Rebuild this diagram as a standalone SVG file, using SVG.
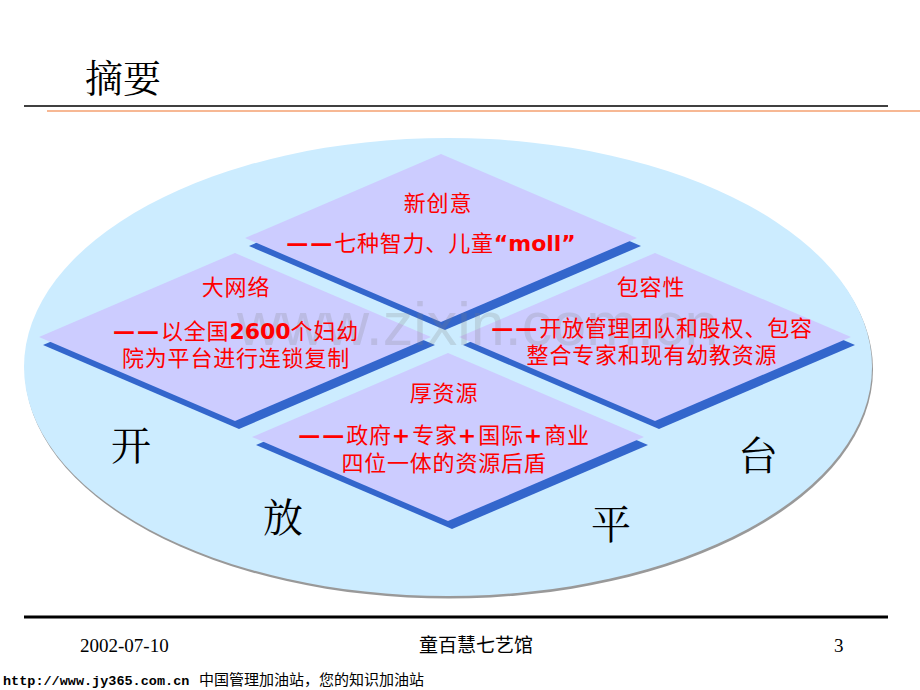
<svg xmlns="http://www.w3.org/2000/svg" width="920" height="690" viewBox="0 0 920 690">
<style>
.face{fill:#CCCCFF}
.shade{fill:#3366CC}
.red{fill:#FF0000;font-family:"Noto Sans CJK SC","Noto Sans",sans-serif;font-size:22px;text-anchor:middle;letter-spacing:0.8px}
.dash{font-family:"DejaVu Sans",sans-serif;font-weight:bold;font-size:22px;letter-spacing:2px}
.plus{font-family:"DejaVu Sans",sans-serif;font-weight:bold;letter-spacing:2px}
.lat{font-family:"DejaVu Sans",Verdana,sans-serif;font-weight:bold;letter-spacing:0}
.big{fill:#000;font-family:"Noto Serif CJK SC","Noto Sans CJK SC",serif;font-size:40px;text-anchor:middle}
.foot{fill:#000;font-family:"Liberation Serif","Noto Sans CJK SC",serif;font-size:19px}
</style>
<rect width="920" height="690" fill="#FFFFFF"/>
<g id="title">
<text x="85" y="92" font-family="Noto Serif CJK SC, Noto Sans CJK SC, serif" font-size="38" fill="#000">摘要</text>
<line x1="24" y1="106" x2="888" y2="106" stroke="#000" stroke-width="1.5"/>
<line x1="47" y1="111" x2="920" y2="111" stroke="#F4A070" stroke-width="1.5"/>
</g>
<g id="platform">
<ellipse cx="449" cy="369.5" rx="424" ry="229" fill="#999999"/>
<ellipse cx="448" cy="367" rx="424" ry="229" fill="#CCECFF"/>
</g>
<g id="connectors"></g>
<g id="shadows">
<polygon class="shade" points="445,162 641,246 445,330 249,246"/>
<polygon class="shade" points="239,261 435,345 239,429 43,345"/>
<polygon class="shade" points="659,261 855,345 659,429 463,345"/>
<polygon class="shade" points="452,361 648,445 452,529 256,445"/>
</g>
<g id="node-top">
<polygon class="face" points="441,154 637,238 441,322 245,238"/>
</g>
<g id="node-left">
<polygon class="face" points="235,253 431,337 235,421 39,337"/>
</g>
<g id="node-right">
<polygon class="face" points="655,253 851,337 655,421 459,337"/>
</g>
<g id="node-bottom">
<polygon class="face" points="448,353 644,437 448,521 252,437"/>
</g>
<text x="237" y="345" font-family="Liberation Sans, Arial, sans-serif" font-size="61" fill="#808080" fill-opacity="0.22">www.zixin.com.cn</text>
<g id="text-top">
<text class="red" x="438" y="211">新创意</text>
<text class="red" x="431" y="251"><tspan class="dash">——</tspan>七种智力、儿童<tspan class="lat">“moll”</tspan></text>
</g>
<g id="text-left">
<text class="red" x="236" y="295">大网络</text>
<text class="red" x="236" y="339"><tspan class="dash">——</tspan>以全国<tspan class="lat">2600</tspan>个妇幼</text>
<text class="red" x="236" y="366">院为平台进行连锁复制</text>
</g>
<g id="text-right">
<text class="red" x="651" y="295">包容性</text>
<text class="red" x="652" y="336"><tspan class="dash">——</tspan>开放管理团队和股权、包容</text>
<text class="red" x="652" y="363">整合专家和现有幼教资源</text>
</g>
<g id="text-bottom">
<text class="red" x="444" y="401">厚资源</text>
<text class="red" x="444" y="443"><tspan class="dash">——</tspan>政府<tspan class="plus">+</tspan>专家<tspan class="plus">+</tspan>国际<tspan class="plus">+</tspan>商业</text>
<text class="red" x="444" y="471">四位一体的资源后盾</text>
</g>
<g id="labels">
<text class="big" x="131" y="460">开</text>
<text class="big" x="283" y="532">放</text>
<text class="big" x="611" y="539">平</text>
<text class="big" x="758" y="470">台</text>
</g>
<g id="footer">
<line x1="24" y1="617" x2="888" y2="617" stroke="#000" stroke-width="3"/>
<text class="foot" x="80" y="652">2002-07-10</text>
<text class="foot" x="476" y="652" text-anchor="middle" font-size="17.5">童百慧七艺馆</text>
<text class="foot" x="834" y="652">3</text>
<text x="3" y="685" font-family="Liberation Mono, monospace" font-weight="bold" font-size="13.5" fill="#000">http://www.jy365.com.cn</text>
<text x="199" y="685" font-family="Noto Sans CJK SC, sans-serif" font-size="15" fill="#000">中国管理加油站，您的知识加油站</text>
</g>
</svg>
